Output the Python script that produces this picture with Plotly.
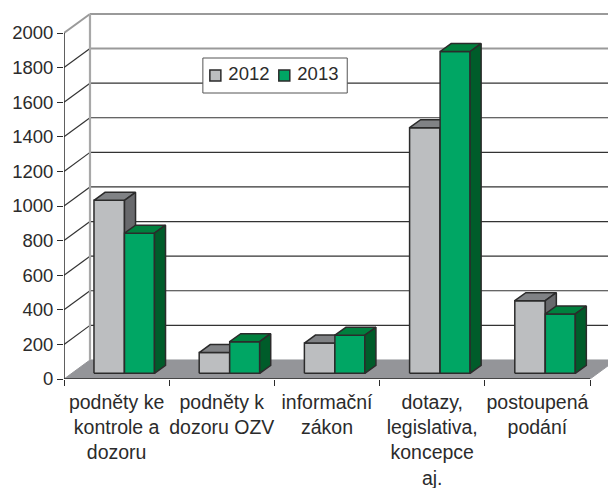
import plotly.graph_objects as go

categories = ["podněty ke<br>kontrole a<br>dozoru", "podněty k<br>dozoru OZV", "informační<br>zákon",
              "dotazy,<br>legislativa,<br>koncepce<br>aj.", "postoupená<br>podání"]
series_names = ["2012", "2013"]
series_2012 = [1000, 120, 175, 1420, 420]
series_2013 = [810, 183, 220, 1860, 343]
y_ticks = [0, 200, 400, 600, 800, 1000, 1200, 1400, 1600, 1800, 2000]
FONT = "Liberation Sans, Arial, sans-serif"
INK = "#2b2b2b"

# layout geometry in window pixels
X0_PX, Y0_PX, CAT_PX, UNIT_PX = 63.5, 379, 105.3, 0.173
px_x = lambda p: (p - X0_PX) / CAT_PX
px_y = lambda p: (Y0_PX - p) / UNIT_PX

WALL_DX, WALL_DY = 0.247, 110
BAR_DX, BAR_DY, BASE = 0.105, 46, 33
SLOTS = [(0.285, 0.575), (0.575, 0.86)]

fig = go.Figure()

def poly(xs, ys, fill, line=INK, w=1.5):
    fig.add_trace(go.Scatter(x=xs + xs[:1], y=ys + ys[:1], mode="lines", fill="toself", fillcolor=fill,
                             line=dict(color=line, width=w), showlegend=False, hoverinfo="skip"))

def seg(xs, ys, color, w):
    fig.add_trace(go.Scatter(x=xs, y=ys, mode="lines", line=dict(color=color, width=w),
                             showlegend=False, hoverinfo="skip"))

n = len(categories)
poly([0, n, n + WALL_DX, WALL_DX], [0, 0, WALL_DY, WALL_DY], "#949599", "#949599", 1)
for t in y_ticks[1:]:
    hc, hw = ("#9a9a9a", 2) if t >= 1800 else ("#333333", 1.2)
    dc, dw = ("#9a9a9a", 2) if t == 2000 else ("#333333", 1.2)
    seg([WALL_DX, n + WALL_DX], [t + WALL_DY, t + WALL_DY], hc, hw)
    seg([0, WALL_DX], [t, t + WALL_DY], dc, dw)
seg([WALL_DX, WALL_DX], [WALL_DY, 2000 + WALL_DY], "#a8a8a8", 2.2)

styles = [("#BCBEC0", "#808285", "#68696C"), ("#00A664", "#00803E", "#005C2A")]
for i in range(n):
    for vals, (l, r), (front, top, side) in zip((series_2012, series_2013), SLOTS, styles):
        v = vals[i] + BASE
        a, b = i + l, i + r
        poly([a, b, b, a], [BASE, BASE, v, v], front)
        poly([a, b, b + BAR_DX, a + BAR_DX], [v, v, v + BAR_DY, v + BAR_DY], top)
        poly([b, b + BAR_DX, b + BAR_DX, b], [BASE, BASE + BAR_DY, v + BAR_DY, v], side)

# axis lines (front edge of the 3-D box)
seg([0, 0], [0, 2000], INK, 1.5)
seg([0, n], [0, 0], INK, 1.5)

# legend box
lx0, lx1, ly0, ly1 = px_x(202.5), px_x(347), px_y(93), px_y(58)
poly([lx0, lx1, lx1, lx0], [ly0, ly0, ly1, ly1], "white", "#555555", 1)
for name, (front, _, _), mx in zip(series_names, styles, (215, 284)):
    fig.add_trace(go.Scatter(x=[px_x(mx)], y=[px_y(75.5)], mode="markers+text", name=name, text=[" " + name],
                             textposition="middle right", showlegend=False, hoverinfo="skip",
                             textfont=dict(size=18.5, color=INK),
                             marker=dict(symbol="square", size=11, color=front, line=dict(color=INK, width=1.5))))

fig.update_layout(
    width=608, height=488, margin=dict(l=63.5, r=0, t=0, b=109, autoexpand=False),
    paper_bgcolor="white", plot_bgcolor="white", showlegend=False,
    font=dict(family=FONT, size=18.5, color=INK),
    xaxis=dict(range=[0, px_x(608)], tickmode="array", tickvals=[i + 0.5 for i in range(n)], ticktext=categories,
               ticks="", showgrid=False, zeroline=False, showline=False, automargin=False,
               tickangle=0, tickfont=dict(size=19.5), ticklabelstandoff=9,
               minor=dict(tickmode="array", tickvals=list(range(n + 1)), ticks="outside", ticklen=6,
                          tickcolor=INK, tickwidth=1.2, showgrid=False)),
    yaxis=dict(range=[0, px_y(0)], tickmode="array", tickvals=y_ticks, ticks="outside", ticklen=6,
               tickcolor=INK, tickwidth=1.2, showgrid=False, zeroline=False, showline=False, automargin=False),
)
fig.write_html("out.html", config={"displayModeBar": False}, post_script="document.body.style.margin='0';")
